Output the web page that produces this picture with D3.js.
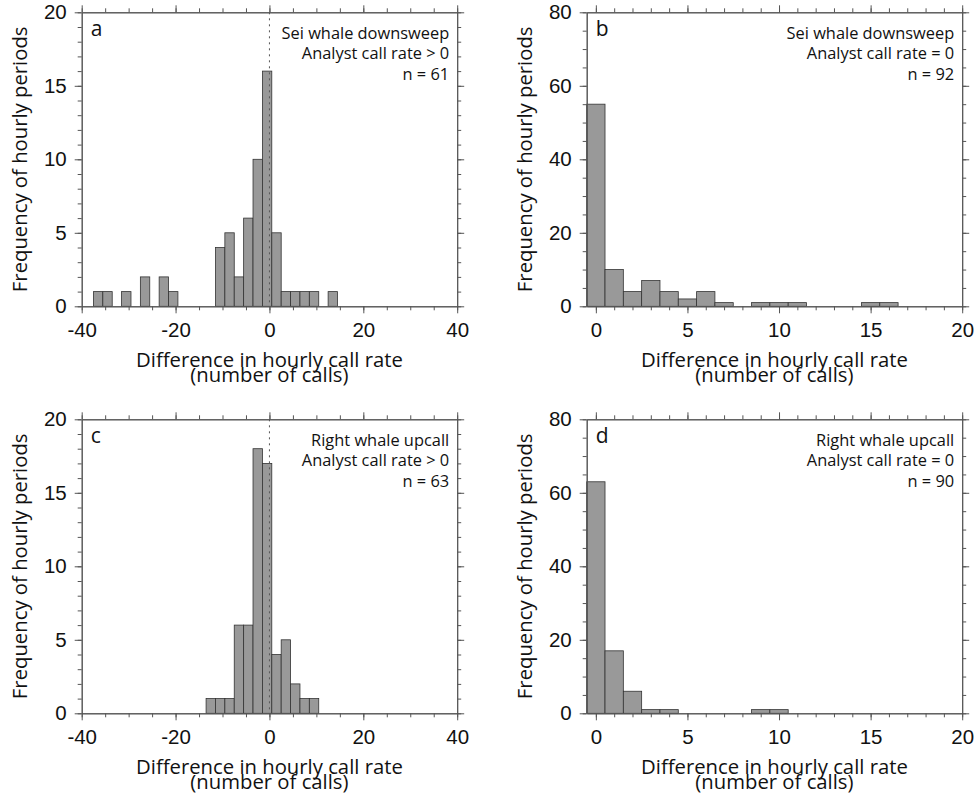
<!DOCTYPE html>
<html>
<head>
<meta charset="utf-8">
<script src="https://cdn.jsdelivr.net/npm/d3@7"></script>
<style>
  body { margin: 0; background: #fff; }
  svg { display: block; font-family: "Open Sans", sans-serif; }
</style>
</head>
<body>
<div id="chart"></div>
<script>
// Taille de la figure
const width = 976;
const height = 795;
const plotW = 375.5;
const plotH = 294;

// Données (centres des classes et effectifs, classes vides omises)
const seiPosCenters = [-36.5, -34.5, -30.5, -26.5, -22.5, -20.5, -10.5, -8.5, -6.5, -4.5, -2.5, -0.5, 1.5, 3.5, 5.5, 7.5, 9.5, 13.5];
const seiPosCounts  = [1, 1, 1, 2, 2, 1, 4, 5, 2, 6, 10, 16, 5, 1, 1, 1, 1, 1];

const seiZeroCenters = [0, 1, 2, 3, 4, 5, 6, 7, 9, 10, 11, 15, 16];
const seiZeroCounts  = [55, 10, 4, 7, 4, 2, 4, 1, 1, 1, 1, 1, 1];

const rightPosCenters = [-12.5, -10.5, -8.5, -6.5, -4.5, -2.5, -0.5, 1.5, 3.5, 5.5, 7.5, 9.5];
const rightPosCounts  = [1, 1, 1, 6, 6, 18, 17, 4, 5, 2, 1, 1];

const rightZeroCenters = [0, 1, 2, 3, 4, 9, 10];
const rightZeroCounts  = [63, 17, 6, 1, 1, 1, 1];

// Graduations
const wideMajorX = [-40, -20, 0, 20, 40];
const wideMinorX = d3.range(-40, 41, 5);
const narrowMajorX = [0, 5, 10, 15, 20];
const narrowMinorX = d3.range(0, 21, 1);
const smallMajorY = [0, 5, 10, 15, 20];
const smallMinorY = d3.range(0, 21, 1);
const bigMajorY = [0, 20, 40, 60, 80];
const bigMinorY = d3.range(0, 81, 5);

// Textes
const xTitle = ["Difference in hourly call rate", "(number of calls)"];
const yTitle = "Frequency of hourly periods";

const panels = [
    { letter: "a", left: 81.7, top: 12.3, xDomain: [-40, 40], yMax: 20, binW: 2,
      centers: seiPosCenters, counts: seiPosCounts, majorX: wideMajorX, minorX: wideMinorX,
      majorY: smallMajorY, minorY: smallMinorY, zeroLine: true,
      notes: ["Sei whale downsweep", "Analyst call rate > 0", "n = 61"] },
    { letter: "b", left: 586.7, top: 12.3, xDomain: [-0.5, 20], yMax: 80, binW: 1,
      centers: seiZeroCenters, counts: seiZeroCounts, majorX: narrowMajorX, minorX: narrowMinorX,
      majorY: bigMajorY, minorY: bigMinorY, zeroLine: false,
      notes: ["Sei whale downsweep", "Analyst call rate = 0", "n = 92"] },
    { letter: "c", left: 81.7, top: 419.3, xDomain: [-40, 40], yMax: 20, binW: 2,
      centers: rightPosCenters, counts: rightPosCounts, majorX: wideMajorX, minorX: wideMinorX,
      majorY: smallMajorY, minorY: smallMinorY, zeroLine: true,
      notes: ["Right whale upcall", "Analyst call rate > 0", "n = 63"] },
    { letter: "d", left: 586.7, top: 419.3, xDomain: [-0.5, 20], yMax: 80, binW: 1,
      centers: rightZeroCenters, counts: rightZeroCounts, majorX: narrowMajorX, minorX: narrowMinorX,
      majorY: bigMajorY, minorY: bigMinorY, zeroLine: false,
      notes: ["Right whale upcall", "Analyst call rate = 0", "n = 90"] }
];

const svg = d3.select("#chart")
    .append("svg")
    .attr("width", width)
    .attr("height", height);

function styleAxis(g) {
    g.select(".domain").attr("stroke", "#555");
    g.selectAll(".tick line").attr("stroke", "#555");
    g.selectAll(".tick text").attr("fill", "#111").style("font-size", "20.5px");
}

function drawPanel(p) {
    const g = svg.append("g");

    const x = d3.scaleLinear().domain(p.xDomain).range([p.left, p.left + plotW]);
    const y = d3.scaleLinear().domain([0, p.yMax]).range([p.top + plotH, p.top]);
    const bottom = p.top + plotH;
    const right = p.left + plotW;

    const data = p.centers.map((c, i) => ({ c: c, n: p.counts[i] }));

    // Barres
    g.append("g").selectAll("rect")
        .data(data)
        .join("rect")
        .attr("x", d => x(d.c - p.binW / 2))
        .attr("width", d => x(d.c + p.binW / 2) - x(d.c - p.binW / 2))
        .attr("y", d => y(d.n))
        .attr("height", d => y(0) - y(d.n))
        .attr("fill", "#999")
        .attr("stroke", "#333")
        .attr("stroke-width", 0.8);

    // Ligne pointillée à zéro
    if (p.zeroLine) {
        g.append("line")
            .attr("x1", x(0)).attr("x2", x(0))
            .attr("y1", p.top).attr("y2", bottom)
            .attr("stroke", "#555")
            .attr("stroke-width", 1)
            .attr("stroke-dasharray", "2,4");
    }

    // Axes : petites graduations puis grandes
    g.append("g").attr("transform", `translate(0,${bottom})`)
        .call(d3.axisBottom(x).tickValues(p.minorX).tickSize(4).tickSizeOuter(0).tickFormat(""))
        .call(styleAxis);
    g.append("g").attr("transform", `translate(0,${bottom})`)
        .call(d3.axisBottom(x).tickValues(p.majorX).tickSize(7).tickSizeOuter(0).tickPadding(9).tickFormat(d => String(d)))
        .call(styleAxis);

    g.append("g").attr("transform", `translate(0,${p.top})`)
        .call(d3.axisTop(x).tickValues(p.minorX).tickSize(4).tickSizeOuter(0).tickFormat(""))
        .call(styleAxis);
    g.append("g").attr("transform", `translate(0,${p.top})`)
        .call(d3.axisTop(x).tickValues(p.majorX).tickSize(7).tickSizeOuter(0).tickFormat(""))
        .call(styleAxis);

    g.append("g").attr("transform", `translate(${p.left},0)`)
        .call(d3.axisLeft(y).tickValues(p.minorY).tickSize(4).tickSizeOuter(0).tickFormat(""))
        .call(styleAxis);
    g.append("g").attr("transform", `translate(${p.left},0)`)
        .call(d3.axisLeft(y).tickValues(p.majorY).tickSize(7).tickSizeOuter(0).tickPadding(8).tickFormat(d => String(d)))
        .call(styleAxis);

    g.append("g").attr("transform", `translate(${right},0)`)
        .call(d3.axisRight(y).tickValues(p.minorY).tickSize(4).tickSizeOuter(0).tickFormat(""))
        .call(styleAxis);
    g.append("g").attr("transform", `translate(${right},0)`)
        .call(d3.axisRight(y).tickValues(p.majorY).tickSize(7).tickSizeOuter(0).tickFormat(""))
        .call(styleAxis);

    // Titre de l'axe horizontal : un seul texte, deux lignes serrées
    const cx = (p.left + right) / 2;
    const title = g.append("text")
        .attr("x", cx).attr("y", bottom + 61)
        .attr("text-anchor", "middle")
        .style("font-size", "20.3px")
        .attr("fill", "#111");
    title.selectAll("tspan")
        .data(xTitle)
        .join("tspan")
        .attr("x", cx)
        .attr("dy", (d, i) => i === 0 ? 0 : 14.6)
        .text(d => d);

    // Titre de l'axe vertical
    g.append("text")
        .attr("transform", `translate(${p.left - 55},${p.top + plotH / 2}) rotate(-90)`)
        .attr("text-anchor", "middle")
        .style("font-size", "20.3px")
        .attr("fill", "#111")
        .text(yTitle);

    // Lettre du panneau
    g.append("text")
        .attr("x", p.left + 9).attr("y", p.top + 24)
        .style("font-size", "21px")
        .attr("fill", "#111")
        .text(p.letter);

    // Annotations en haut à droite
    g.append("g").selectAll("text")
        .data(p.notes)
        .join("text")
        .attr("x", right - 8)
        .attr("y", (d, i) => p.top + 26.5 + i * 20.5)
        .attr("text-anchor", "end")
        .style("font-size", "16.4px")
        .attr("fill", "#111")
        .text(d => d);
}

panels.forEach(drawPanel);
</script>
</body>
</html>
